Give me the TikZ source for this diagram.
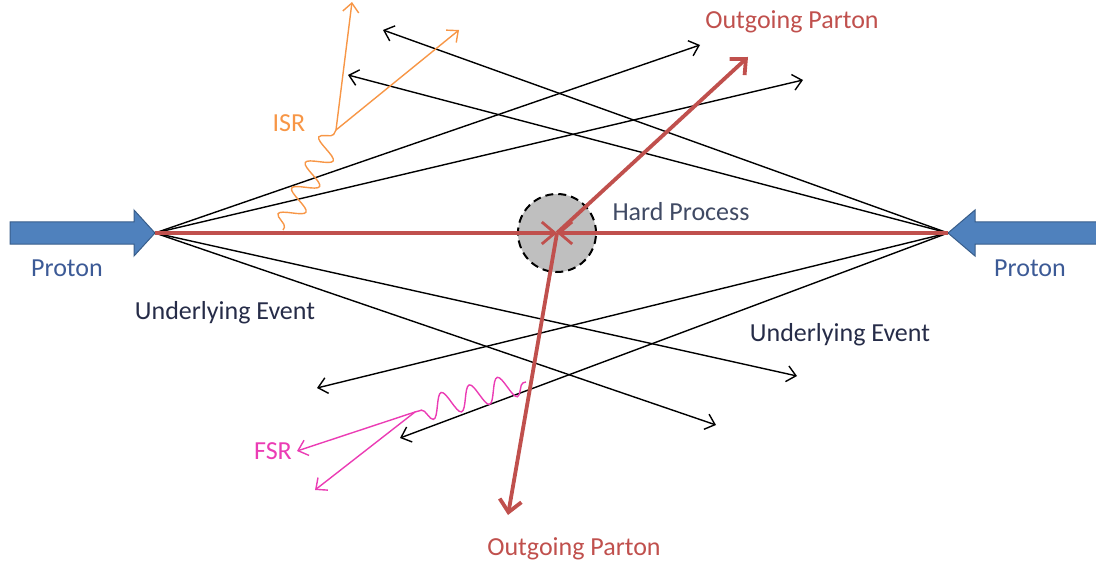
\documentclass[tikz,border=0pt]{standalone}
\usepackage{fontspec}
\setmainfont{Carlito}
\usetikzlibrary{arrows.meta,decorations.pathmorphing}
\definecolor{pred}{RGB}{192,80,77}
\definecolor{pblue}{RGB}{79,129,189}
\definecolor{pbluedark}{RGB}{56,93,138}
\definecolor{ptext}{RGB}{60,90,150}
\definecolor{uetext}{RGB}{38,44,72}
\definecolor{hptext}{RGB}{64,74,100}
\definecolor{isrc}{RGB}{247,150,70}
\definecolor{fsrc}{RGB}{235,60,180}
\tikzset{
  ue/.style={black, line width=1.4pt, -{Straight Barb[length=9pt,width=16pt,line width=1.4pt]}},
  parton/.style={pred, line width=3.8pt, -{Straight Barb[length=12pt,width=22pt,line width=3.8pt]}},
  beam/.style={pred, line width=3.2pt, -{Straight Barb[length=13pt,width=22pt,line width=2.8pt]}},
  isrline/.style={isrc, line width=1.4pt},
  israrrow/.style={isrc, line width=1.4pt, -{Straight Barb[length=9pt,width=16pt,line width=1.4pt]}},
  fsrline/.style={fsrc, line width=1.4pt},
  fsrarrow/.style={fsrc, line width=1.4pt, -{Straight Barb[length=9pt,width=16pt,line width=1.4pt]}},
  wave/.style={decorate, decoration={snake, segment length=29pt, amplitude=12pt, pre length=3pt, post length=3pt}},
  lbl/.style={font=\fontsize{26}{29}\selectfont, inner sep=0pt},
  protonarrow/.style={fill=pblue, draw=pbluedark, line width=1pt}
}
\begin{document}
\begin{tikzpicture}[x=1pt,y=-1pt]
\useasboundingbox (0,0) rectangle (1096,567);
% vertices
\coordinate (L) at (155,233);
\coordinate (R) at (948,233);
\coordinate (H) at (557,233);
% underlying event ends
\coordinate (la) at (700,45);
\coordinate (lb) at (803,80);
\coordinate (lc) at (797,376);
\coordinate (ld) at (716,425);
\coordinate (ra) at (383,30);
\coordinate (rb) at (348,75);
\coordinate (rc) at (317,388);
\coordinate (rd) at (400,438);
% parton ends
\coordinate (pu) at (748,57);
\coordinate (pd) at (508,515);
% ISR / FSR
\coordinate (isr0) at (283,230);
\coordinate (isr1) at (336,130);
\coordinate (isra) at (352,2);
\coordinate (isrb) at (459,30);
\coordinate (fsr0) at (526,382);
\coordinate (fsr1) at (415,412);
\coordinate (fsra) at (297,451);
\coordinate (fsrb) at (315,490);

% proton arrows
\path[protonarrow] (10,222) -- (134,222) -- (134,210) -- (L) -- (134,256) -- (134,244) -- (10,244) -- cycle;
\path[protonarrow] (1098,222) -- (975,222) -- (975,210) -- (R) -- (975,256) -- (975,244) -- (1098,244) -- cycle;

% underlying event lines
\draw[ue] (L) -- (la);
\draw[ue] (L) -- (lb);
\draw[ue] (L) -- (lc);
\draw[ue] (L) -- (ld);
\draw[ue] (R) -- (ra);
\draw[ue] (R) -- (rb);
\draw[ue] (R) -- (rc);
\draw[ue] (R) -- (rd);

% ISR
\draw[isrline, wave] (isr0) -- (isr1);
\draw[israrrow] (isr1) -- (isra);
\draw[israrrow] (isr1) -- (isrb);

% FSR
\draw[fsrline, wave] (fsr0) -- (fsr1);
\draw[fsrarrow] (fsr1) -- (fsra);
\draw[fsrarrow] (fsr1) -- (fsrb);

% hard process
\node[circle, minimum size=78pt, inner sep=0pt, fill=black!25, draw=black, line width=2pt, dash pattern=on 8pt off 5pt] (hp) at (H) {};

% partons
\draw[beam] (L) -- (H);
\draw[beam] (R) -- (H);
\draw[parton] (H) -- (pu);
\draw[parton] (H) -- (pd);

% labels
\node[lbl, text=pred] (tpu) at (792,22) {Outgoing Parton};
\node[lbl, text=pred] (tpd) at (574,549) {Outgoing Parton};
\node[lbl, text=hptext] (thp) at (681,212) {Hard Process};
\node[lbl, text=ptext] (tpl) at (67,268) {Proton};
\node[lbl, text=ptext] (tpr) at (1030,268) {Proton};
\node[lbl, text=uetext] (tuel) at (225,313) {Underlying Event};
\node[lbl, text=uetext] (tuer) at (840,335) {Underlying Event};
\node[lbl, text=isrc] (tisr) at (289,123) {ISR};
\node[lbl, text=fsrc] (tfsr) at (273,451) {FSR};
\end{tikzpicture}
\end{document}
